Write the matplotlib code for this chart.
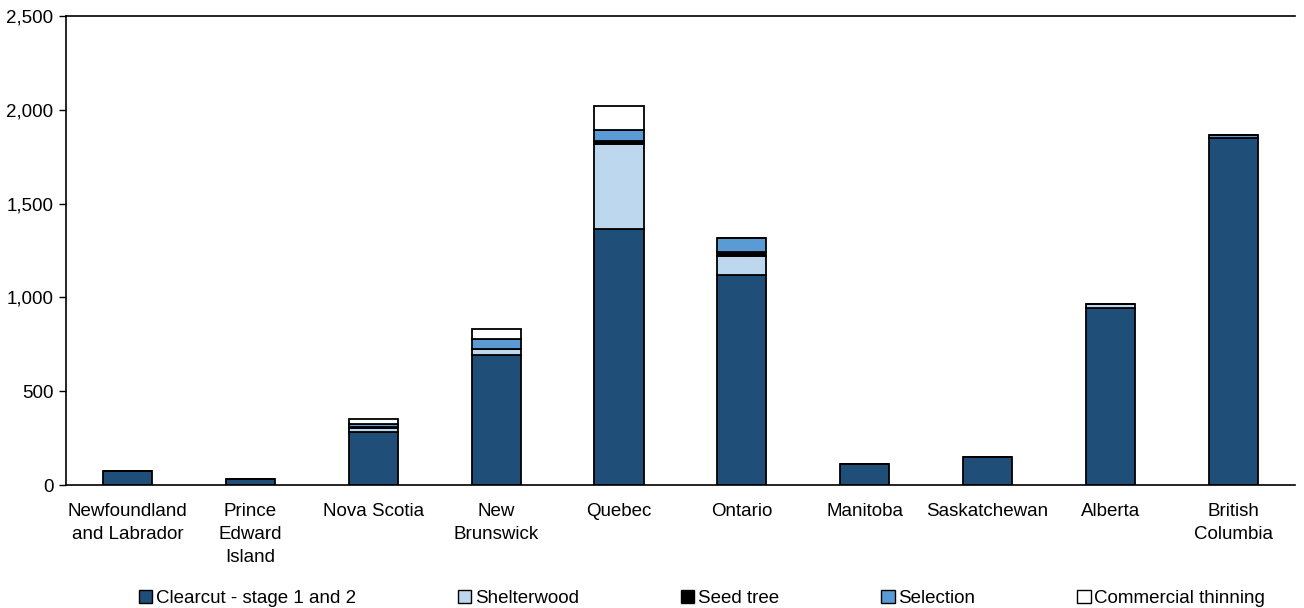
import matplotlib
matplotlib.use("Agg")
import matplotlib.pyplot as plt
from matplotlib.ticker import FuncFormatter
import numpy as np

provinces = ["Newfoundland\nand Labrador", "Prince\nEdward\nIsland", "Nova Scotia",
             "New\nBrunswick", "Quebec", "Ontario", "Manitoba", "Saskatchewan",
             "Alberta", "British\nColumbia"]

clearcut = [75, 30, 285, 695, 1365, 1118, 110, 150, 943, 1848]
shelterwood = [0, 0, 18, 28, 455, 105, 0, 0, 22, 0]
seed_tree = [0, 0, 5, 4, 14, 18, 0, 0, 0, 3]
selection = [0, 0, 15, 50, 60, 75, 0, 0, 0, 15]
thinning = [0, 0, 27, 57, 127, 3, 0, 0, 0, 0]

series = [
    ("Clearcut - stage 1 and 2", clearcut, "#1F4E79"),
    ("Shelterwood", shelterwood, "#BDD7EE"),
    ("Seed tree", seed_tree, "#000000"),
    ("Selection", selection, "#5B9BD5"),
    ("Commercial thinning", thinning, "#FFFFFF"),
]

plt.rcParams["font.family"] = ["Liberation Sans Narrow", "Liberation Sans", "DejaVu Sans"]

fig = plt.figure(figsize=(13.04, 6.08), dpi=100)
ax = fig.add_axes([0.0506, 0.2023, 0.9424, 0.7714])

x = np.arange(len(provinces))
bottom = np.zeros(len(provinces))
handles = []
for name, vals, color in series:
    vals = np.array(vals, dtype=float)
    b = ax.bar(x, vals, 0.4, bottom=bottom, color=color, edgecolor="black",
               linewidth=1.3, label=name)
    handles.append(b)
    bottom += vals

ax.set_xlim(-0.5, len(provinces) - 0.5)
ax.set_ylim(0, 2500)
ax.set_yticks(range(0, 2501, 500))
ax.yaxis.set_major_formatter(FuncFormatter(lambda v, p: f"{int(v):,}"))
ax.set_xticks(x)
ax.set_xticklabels(provinces, linespacing=1.45)
ax.tick_params(axis="x", length=0, pad=13, labelsize=13.5)
ax.tick_params(axis="y", length=5, width=1, direction="out", labelsize=13.5, pad=4)

ax.spines["right"].set_visible(False)
for side in ["left", "bottom", "top"]:
    ax.spines[side].set_linewidth(1.2)

leg = fig.legend(handles=handles, labels=[s[0] for s in series], ncol=5,
                 loc="lower left", bbox_to_anchor=(0.101, -0.011, 0.875, 0.05),
                 mode="expand", frameon=False, fontsize=13.5,
                 handlelength=0.7, handleheight=0.7, handletextpad=0.2,
                 borderaxespad=0)
for h in leg.legend_handles:
    h.set_linewidth(1.0)

fig.savefig("out.png", dpi=100)
